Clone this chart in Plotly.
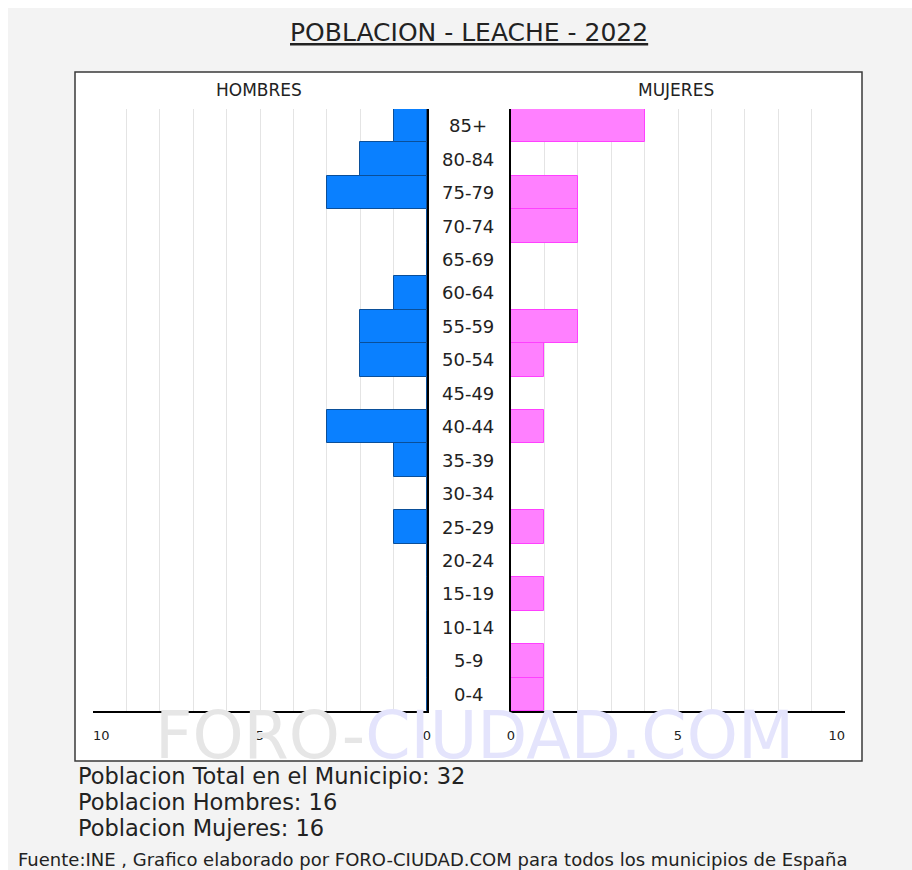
import plotly.graph_objects as go

# Age groups, youngest first (bottom of the pyramid)
age_groups = ["0-4", "5-9", "10-14", "15-19", "20-24", "25-29", "30-34", "35-39",
              "40-44", "45-49", "50-54", "55-59", "60-64", "65-69", "70-74",
              "75-79", "80-84", "85+"]
hombres = [0, 0, 0, 0, 0, 1, 0, 1, 3, 0, 2, 2, 1, 0, 0, 3, 2, 1]
mujeres = [1, 1, 0, 1, 0, 1, 0, 0, 1, 0, 1, 2, 0, 0, 2, 2, 0, 4]

axis_ticks = list(range(0, 11))
NB = "\u00a0" * 4
left_ticktext = ["0", "", "", "", "", "5", "", "", "", "", NB + "10"]
right_ticktext = ["0", "", "", "", "", "5", "", "", "", "", "10" + NB]

title_text = "POBLACION - LEACHE - 2022"
total_h = sum(hombres)
total_m = sum(mujeres)
summary_lines = [
    f"Poblacion Total en el Municipio: {total_h + total_m}",
    f"Poblacion Hombres: {total_h}",
    f"Poblacion Mujeres: {total_m}",
]
source_text = "Fuente:INE , Grafico elaborado por FORO-CIUDAD.COM para todos los municipios de España"

W, H = 912, 870
FONT = "DejaVu Sans"
TXT = "#222222"


def px_x(v):
    return v / W


def px_y(v):
    return 1 - v / H


left_dom = [px_x(93), px_x(427)]
right_dom = [px_x(511), px_x(845)]
y_dom = [px_y(711), px_y(109)]

fig = go.Figure()

fig.add_trace(go.Bar(
    x=hombres, y=age_groups, orientation="h", xaxis="x", yaxis="y",
    width=1, marker=dict(color="#0a80ff", line=dict(color="#0a4f9a", width=1)),
    hoverinfo="x+y", showlegend=False,
))
fig.add_trace(go.Bar(
    x=mujeres, y=age_groups, orientation="h", xaxis="x2", yaxis="y2",
    width=1, marker=dict(color="#ff80ff", line=dict(color="#ff40ff", width=1)),
    hoverinfo="x+y", showlegend=False,
))

xaxis_common = dict(
    tickvals=axis_ticks,
    showgrid=True, gridcolor="#e4e4e4", gridwidth=1,
    showline=True, linecolor="black", linewidth=2,
    ticks="outside", ticklen=11, tickcolor="rgba(0,0,0,0)",
    tickfont=dict(family=FONT, size=13, color=TXT),
    zeroline=False, fixedrange=True, automargin=False,
)
yaxis_common = dict(
    type="category", categoryorder="array", categoryarray=age_groups,
    range=[-0.5, len(age_groups) - 0.5], domain=y_dom,
    showgrid=False, showticklabels=False, ticks="",
    showline=True, linecolor="black", linewidth=2, zeroline=False,
    fixedrange=True, automargin=False,
)

fig.update_layout(
    width=W, height=H, autosize=False,
    margin=dict(l=0, r=0, t=0, b=0, pad=0, autoexpand=False),
    paper_bgcolor="#f3f3f3", plot_bgcolor="rgba(0,0,0,0)",
    bargap=0,
    xaxis=dict(domain=left_dom, range=[10, 0], anchor="y",
               ticktext=left_ticktext, **xaxis_common),
    xaxis2=dict(domain=right_dom, range=[0, 10], anchor="y2",
                ticktext=right_ticktext, **xaxis_common),
    yaxis=dict(anchor="x", side="right", **yaxis_common),
    yaxis2=dict(anchor="x2", side="left", matches="y", **yaxis_common),
)

# Thin white strips along the top and left edges
fig.add_shape(type="rect", xref="paper", yref="paper",
              x0=0, x1=1, y0=px_y(8), y1=1,
              fillcolor="white", line=dict(width=0), layer="below")
fig.add_shape(type="rect", xref="paper", yref="paper",
              x0=0, x1=px_x(8), y0=0, y1=1,
              fillcolor="white", line=dict(width=0), layer="below")
# White frame around the pyramid
fig.add_shape(type="rect", xref="paper", yref="paper",
              x0=px_x(75), x1=px_x(862), y0=px_y(761), y1=px_y(72),
              fillcolor="white", line=dict(color="#3a3a3a", width=1.5),
              layer="below")

annotations = []

# Title
annotations.append(dict(
    text=f"<u>{title_text}</u>", x=px_x(469), y=px_y(33), xref="paper", yref="paper",
    showarrow=False, xanchor="center", yanchor="middle",
    font=dict(family=FONT, size=25, color=TXT),
))

# Panel headers
for label, cx in (("HOMBRES", 259), ("MUJERES", 676)):
    annotations.append(dict(
        text=label, x=px_x(cx), y=px_y(90), xref="paper", yref="paper",
        showarrow=False, xanchor="center", yanchor="middle",
        font=dict(family=FONT, size=17, color=TXT),
    ))

# Age group labels between the two panels
for g in age_groups:
    annotations.append(dict(
        text=g, x=px_x(468), y=g, xref="paper", yref="y",
        showarrow=False, xanchor="center", yanchor="middle",
        font=dict(family=FONT, size=18, color=TXT),
    ))

# Watermark
annotations.append(dict(
    text=("<span style='color:#e6e6e6'>FORO-</span>"
          "<span style='color:#e4e4fc'>CIUDAD.COM</span>"),
    x=px_x(474), y=px_y(735), xref="paper", yref="paper",
    showarrow=False, xanchor="center", yanchor="middle",
    font=dict(family=FONT, size=65, color="#e6e6e6"),
))

# Population summary
for i, line in enumerate(summary_lines):
    annotations.append(dict(
        text=line, x=px_x(76), y=px_y(776 + 26 * i), xref="paper", yref="paper",
        showarrow=False, xanchor="left", yanchor="middle",
        font=dict(family=FONT, size=22.5, color=TXT),
    ))

# Source line
annotations.append(dict(
    text=source_text, x=px_x(16), y=px_y(859), xref="paper", yref="paper",
    showarrow=False, xanchor="left", yanchor="middle",
    font=dict(family=FONT, size=18, color=TXT),
))

fig.update_layout(annotations=annotations)

fig.write_html("out.html")
